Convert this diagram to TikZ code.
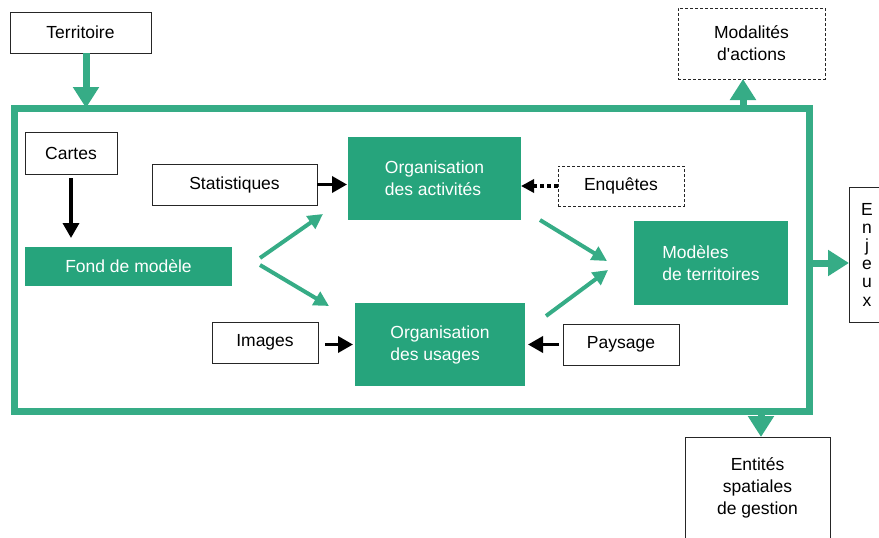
\documentclass[tikz,border=0pt]{standalone}
\usepackage{fontspec}
\setmainfont{Liberation Sans}[Ligatures=TeXOff]
\usetikzlibrary{arrows.meta}
\definecolor{vert}{RGB}{38,164,124}
\definecolor{vertclair}{RGB}{54,172,134}
\tikzset{
  base/.style={font=\fontsize{17.5}{22}\selectfont, align=center, inner sep=0pt, outer sep=0pt},
  wbox/.style={base, draw=black!85, line width=0.9pt, fill=white},
  dbox/.style={base, draw=black!85, line width=0.9pt, dash pattern=on 3pt off 2pt, fill=white},
  gbox/.style={base, align=left, fill=vert, text=white},
  frame/.style={draw=vertclair, line width=7pt, inner sep=0pt, outer sep=0pt},
  bigarrow/.style={draw=vertclair, line width=7pt, -{Triangle[width=25pt,length=21pt]}},
  garrow/.style={draw=vertclair, line width=4pt, -{Triangle[width=15pt,length=15pt]}},
  barrow/.style={draw=black, line width=3.5pt, -{Triangle[width=16pt,length=15pt]}},
  dotarrow/.style={draw=black, line width=3.5pt, dash pattern=on 4pt off 3pt, -{Triangle[width=13pt,length=13pt]}},
}
\begin{document}
\begin{tikzpicture}[x=1pt,y=-1pt]
\useasboundingbox (0,0) rectangle (879,538);
% frame
\node[frame, minimum width=795pt, minimum height=303pt] (frame) at (411.5,259.5) {};
% boxes
\node[wbox, minimum width=141pt, minimum height=41pt] (terr) at (80.5,32.5) {Territoire};
\node[dbox, minimum width=147pt, minimum height=71pt] (moda) at (751.5,43.5) {Modalités\\d'actions};
\node[wbox, minimum width=92pt, minimum height=42pt] (cart) at (71,153) {Cartes};
\node[gbox, minimum width=207pt, minimum height=39pt] (fond) at (128.5,266.5) {Fond de modèle};
\node[wbox, minimum width=165pt, minimum height=41pt] (stat) at (234.5,184.5) {Statistiques};
\node[gbox, minimum width=173pt, minimum height=83pt] (oact) at (434.5,178.5) {Organisation\\des activités};
\node[dbox, minimum width=126pt, minimum height=40pt] (enq) at (621,186) {Enquêtes};
\node[gbox, minimum width=154pt, minimum height=84pt] (mdl) at (711,263) {Modèles\\de territoires};
\node[wbox, minimum width=36pt, minimum height=135pt, font=\fontsize{17.5}{18.2}\selectfont] (enj) at (867,254.5) {E\\n\\j\\e\\u\\x};
\node[wbox, minimum width=106pt, minimum height=41pt] (img) at (265,342.5) {Images};
\node[gbox, minimum width=170pt, minimum height=83pt] (ous) at (440,344.5) {Organisation\\des usages};
\node[wbox, minimum width=116pt, minimum height=41pt] (pays) at (621,344.5) {Paysage};
\node[wbox, minimum width=145pt, minimum height=102pt] (ent) at (757.5,488) {Entités\\spatiales\\de gestion};
% coordinates for green branches
\coordinate (fb1) at (260,258);
\coordinate (fb2) at (260,265);
\coordinate (t1) at (323,214);
\coordinate (t2) at (329,306);
\coordinate (ab) at (540,220);
\coordinate (ub) at (546,316);
\coordinate (m1) at (607,261);
\coordinate (m2) at (608,270);
% big arrows
\draw[bigarrow] ([xshift=5.5pt]terr.south) -- ([xshift=5.5pt]terr.south |- frame.north);
\draw[bigarrow] ([xshift=-8.5pt]moda.south |- frame.north) -- ([xshift=-8.5pt]moda.south);
\draw[bigarrow] (frame.east |- mdl.center) -- (enj.west |- mdl.center);
\draw[bigarrow] ([xshift=3.5pt]ent.north |- frame.south) -- ([xshift=3.5pt]ent.north);
% green arrows
\draw[garrow] (fb1) -- (t1);
\draw[garrow] (fb2) -- (t2);
\draw[garrow] (ab) -- (m1);
\draw[garrow] (ub) -- (m2);
% black arrows
\draw[barrow, shorten <=4pt, shorten >=9pt] (cart.south) -- (cart.south |- fond.north);
\draw[barrow, shorten >=1pt] (stat.east) -- (stat.east -| oact.west);
\draw[dotarrow] (enq.west) -- (enq.west -| oact.east);
\draw[barrow, shorten <=7pt, shorten >=2pt] (img.east |- ous.center) -- (ous.west);
\draw[barrow, shorten <=4pt, shorten >=3pt] (pays.west) -- (pays.west -| ous.east);
\end{tikzpicture}
\end{document}
